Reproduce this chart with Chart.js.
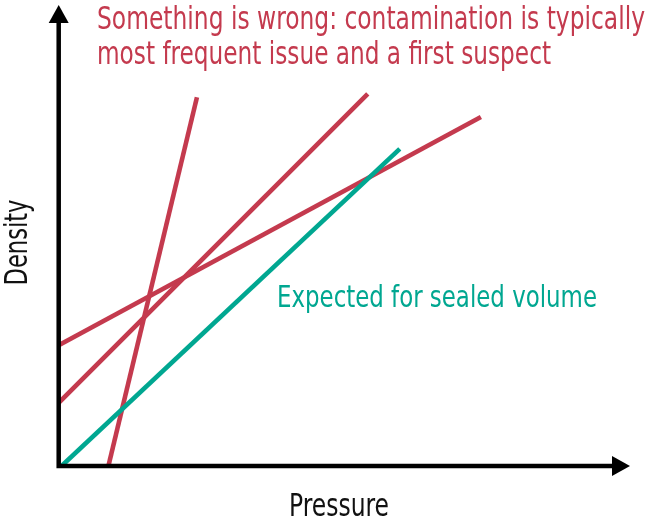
<!DOCTYPE html>
<html>
<head>
<meta charset="utf-8">
<script src="https://cdn.jsdelivr.net/npm/chart.js@4.4.1/dist/chart.umd.min.js"></script>
<style>
  html, body { margin: 0; padding: 0; background: #ffffff; }
  #wrap { width: 650px; height: 521px; }
</style>
</head>
<body>
<div id="wrap"><canvas id="c" width="650" height="521"></canvas></div>
<script>
// Data (arbitrary units, axes 0..100)
const expectedX = [0.5, 59.7];
const expectedY = [0, 68.8];
const steepX = [8.7, 24.2];
const steepY = [0, 80.0];
const midX = [0, 54.1];
const midY = [13.7, 80.7];
const shallowX = [0, 73.9];
const shallowY = [26.2, 75.7];

const titleLines = ["Something is wrong: contamination is typically", "most frequent issue and a first suspect"];
const expectedLabel = "Expected for sealed volume";
const xTitle = "Pressure";
const yTitle = "Density";

const RED = "#c43a4e";
const TEAL = "#00a791";
const FONT = "'Liberation Sans Narrow', 'DejaVu Sans Condensed', 'Roboto', sans-serif";

function pts(xs, ys) { return xs.map((x, i) => ({ x: x, y: ys[i] })); }
function ds(xs, ys, color) {
  return { data: pts(xs, ys), showLine: true, borderColor: color, borderWidth: 4.6,
           pointRadius: 0, pointHoverRadius: 0, fill: false, tension: 0 };
}

// draw text with a given font size, squeezed horizontally to a target width
function drawFit(ctx, text, x, y, size, width, align) {
  ctx.font = size + "px " + FONT;
  const w = ctx.measureText(text).width;
  const sx = width / w;
  ctx.save();
  ctx.translate(x, y);
  ctx.scale(sx, 1);
  ctx.textAlign = align || 'left';
  ctx.fillText(text, 0, 0);
  ctx.restore();
}

const decor = {
  id: 'decor',
  afterDatasetsDraw(chart) {
    const ctx = chart.ctx;
    const xs = chart.scales.x, ys = chart.scales.y;
    const x0 = xs.getPixelForValue(0), y0 = ys.getPixelForValue(0);
    const xEnd = xs.getPixelForValue(100), yEnd = ys.getPixelForValue(100);
    ctx.save();
    ctx.strokeStyle = '#000'; ctx.fillStyle = '#000'; ctx.lineWidth = 4.5;
    ctx.lineCap = 'butt';
    ctx.beginPath();
    ctx.moveTo(x0, y0 + 2.2); ctx.lineTo(x0, yEnd + 15);
    ctx.moveTo(x0 - 2.2, y0); ctx.lineTo(xEnd - 15, y0);
    ctx.stroke();
    // arrowheads
    ctx.beginPath();
    ctx.moveTo(x0, yEnd); ctx.lineTo(x0 - 10, yEnd + 18); ctx.lineTo(x0 + 10, yEnd + 18); ctx.closePath();
    ctx.fill();
    ctx.beginPath();
    ctx.moveTo(xEnd, y0); ctx.lineTo(xEnd - 18, y0 - 10); ctx.lineTo(xEnd - 18, y0 + 10); ctx.closePath();
    ctx.fill();

    // texts
    ctx.textBaseline = 'alphabetic';
    ctx.fillStyle = RED;
    drawFit(ctx, titleLines[0], 97, 29, 32, 548);
    drawFit(ctx, titleLines[1], 97, 64, 32, 454);

    ctx.fillStyle = TEAL;
    drawFit(ctx, expectedLabel, 277, 307, 30, 320);

    ctx.fillStyle = '#111';
    drawFit(ctx, xTitle, 339, 516, 32, 100, 'center');

    ctx.save();
    ctx.translate(27, 242.5);
    ctx.rotate(-Math.PI / 2);
    drawFit(ctx, yTitle, 0, 0, 32, 86, 'center');
    ctx.restore();
    ctx.restore();
  }
};

new Chart(document.getElementById('c'), {
  type: 'scatter',
  data: {
    datasets: [
      ds(expectedX, expectedY, TEAL),
      ds(steepX, steepY, RED),
      ds(midX, midY, RED),
      ds(shallowX, shallowY, RED)
    ]
  },
  options: {
    responsive: false,
    animation: false,
    events: [],
    layout: { padding: { left: 58.7, right: 20, top: 5, bottom: 55 } },
    plugins: { legend: { display: false }, tooltip: { enabled: false }, title: { display: false } },
    scales: {
      x: { type: 'linear', min: 0, max: 100, display: false },
      y: { type: 'linear', min: 0, max: 100, display: false }
    }
  },
  plugins: [decor]
});
</script>
</body>
</html>
